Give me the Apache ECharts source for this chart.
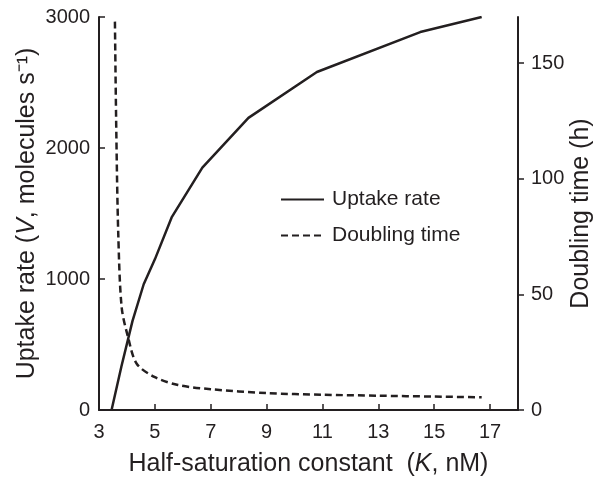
<!DOCTYPE html>
<html>
<head>
<meta charset="utf-8">
<script src="https://cdn.jsdelivr.net/npm/echarts@6/dist/echarts.min.js"></script>
<style>html,body{margin:0;padding:0;background:#fff;}#c{width:598px;height:479px;}</style>
</head>
<body>
<div id="c"></div>
<script>
const uptakeK = [3.45, 3.8, 4.2, 4.6, 5.0, 5.6, 6.7, 8.35, 10.8, 14.5, 16.7];
const uptakeV = [0, 330, 680, 960, 1150, 1470, 1850, 2230, 2580, 2885, 3000];
const doublingK = [3.57, 3.62, 3.69, 3.81, 4.04, 4.35, 5.0, 5.83, 7.0, 9.0, 11, 13, 15, 16.7];
const doublingT = [168, 120, 76, 44.5, 31.5, 20, 14.2, 10.8, 9, 7.3, 6.6, 6.2, 5.8, 5.5];
const xTickLabels = [3, 5, 7, 9, 11, 13, 15, 17];
const leftTicks = [0, 1000, 2000, 3000];
const rightTicks = [0, 50, 100, 150];

const FONT = 'Liberation Sans';
const C = '#231f20';
const TS = 20;   // tick label size
const NS = 25;   // axis name size
const plain = v => String(v);
const chart = echarts.init(document.getElementById('c'), null, {renderer: 'canvas'});
chart.setOption({
  animation: false,
  backgroundColor: '#fff',
  textStyle: {fontFamily: FONT, color: C},
  grid: {left: 99, right: 80, top: 17, bottom: 69, containLabel: false, outerBoundsMode: 'none'},
  legend: {
    orient: 'vertical', left: 280, top: 189, padding: 0, itemWidth: 43, itemHeight: 14, itemGap: 15,
    itemStyle: {opacity: 0},
    textStyle: {fontFamily: FONT, fontSize: 21, color: C, padding: [0, 0, 0, 3]},
    data: ['Uptake rate', 'Doubling time']
  },
  xAxis: {
    type: 'value', min: 3, max: 18,
    name: '{n|Half-saturation constant  (}{i|K}{n|, nM)}',
    nameLocation: 'middle', nameGap: 42, nameMoveOverlap: false,
    nameTextStyle: {rich: {n: {fontFamily: FONT, fontSize: NS, color: C}, i: {fontFamily: FONT, fontSize: NS, fontStyle: 'italic', color: C}}},
    axisLine: {lineStyle: {color: C, width: 2}},
    axisTick: {inside: true, length: 6, lineStyle: {color: C, width: 1.5}, customValues: xTickLabels.slice(1)},
    axisLabel: {fontFamily: FONT, fontSize: TS, color: C, margin: 12, customValues: xTickLabels, formatter: plain},
    splitLine: {show: false}
  },
  yAxis: [{
    type: 'value', min: 0, max: 3000, position: 'left',
    name: '{n|Uptake rate (}{i|V}{n|, molecules s⁻¹)}',
    nameLocation: 'middle', nameGap: 59, nameRotate: 90, nameMoveOverlap: false,
    nameTextStyle: {rich: {n: {fontFamily: FONT, fontSize: NS, color: C}, i: {fontFamily: FONT, fontSize: NS, fontStyle: 'italic', color: C}}},
    axisLine: {show: true, lineStyle: {color: C, width: 2}},
    axisTick: {show: true, inside: true, length: 6, lineStyle: {color: C, width: 1.5}, customValues: leftTicks},
    axisLabel: {fontFamily: FONT, fontSize: TS, color: C, margin: 9, customValues: leftTicks, formatter: plain},
    splitLine: {show: false}
  }, {
    type: 'value', min: 0, max: 170, position: 'right',
    name: 'Doubling time (h)',
    nameLocation: 'middle', nameGap: 51, nameRotate: 90, nameMoveOverlap: false,
    nameTextStyle: {fontFamily: FONT, fontSize: NS, color: C},
    axisLine: {show: true, lineStyle: {color: C, width: 2}},
    axisTick: {show: true, inside: false, length: 6, lineStyle: {color: C, width: 1.5}, customValues: rightTicks},
    axisLabel: {fontFamily: FONT, fontSize: TS, color: C, margin: 13, customValues: rightTicks, formatter: plain},
    splitLine: {show: false}
  }],
  series: [{
    name: 'Uptake rate', type: 'line', yAxisIndex: 0, symbol: 'none',
    lineStyle: {color: C, width: 2.5},
    itemStyle: {color: C},
    data: uptakeK.map((k, i) => [k, uptakeV[i]])
  }, {
    name: 'Doubling time', type: 'line', yAxisIndex: 1, symbol: 'none', smooth: 0.3,
    lineStyle: {color: C, width: 2.5, type: [7, 4]},
    itemStyle: {color: C},
    data: doublingK.map((k, i) => [k, doublingT[i]])
  }]
});
</script>
</body>
</html>
